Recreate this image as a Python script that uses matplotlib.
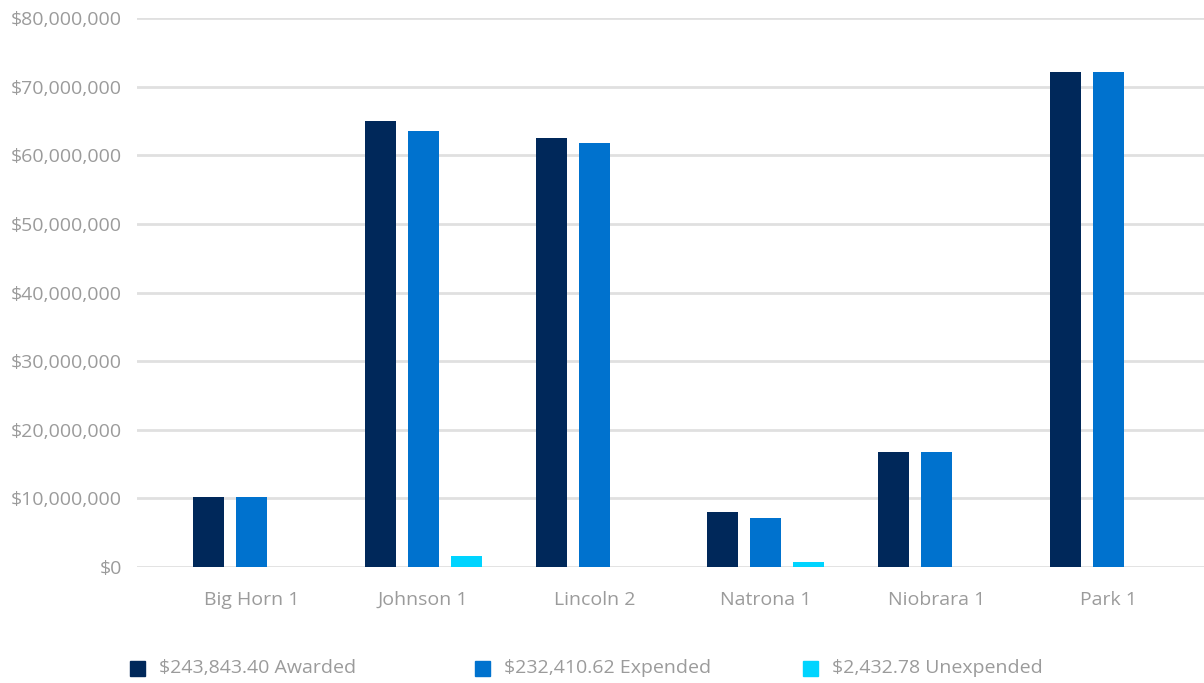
import matplotlib
matplotlib.use("Agg")
import matplotlib.pyplot as plt
import numpy as np
from matplotlib.patches import Rectangle
from matplotlib.ticker import FuncFormatter, MultipleLocator

plt.rcParams['font.family'] = ['Open Sans', 'DejaVu Sans']

counties = ["Big Horn 1", "Johnson 1", "Lincoln 2", "Natrona 1", "Niobrara 1", "Park 1"]
awarded = [10.2e6, 65.0e6, 62.5e6, 8.0e6, 16.7e6, 72.1e6]
expended = [10.2e6, 63.6e6, 61.8e6, 7.1e6, 16.7e6, 72.1e6]
unexpended = [0, 1.6e6, 0, 0.7e6, 0, 0]
legend_labels = ["$243,843.40 Awarded", "$232,410.62 Expended", "$2,432.78 Unexpended"]
colors = ["#00285A", "#0072CE", "#00D4FF"]

W, H = 1204, 683
fig = plt.figure(figsize=(W / 100, H / 100), dpi=100)
ax = fig.add_axes([137 / W, 116 / H, (W - 137) / W, (567 - 18) / H])

x = np.arange(len(counties))
bw = 0.181
step = 0.251
for i, (vals, c) in enumerate(zip([awarded, expended, unexpended], colors)):
    ax.bar(x + (i - 1) * step, vals, width=bw, color=c, zorder=3, linewidth=0)

ax.set_xlim(-0.67, 5.56)
ax.set_ylim(0, 80e6)
ax.yaxis.set_major_locator(MultipleLocator(10e6))
ax.yaxis.set_major_formatter(FuncFormatter(lambda v, p: f"${v:,.0f}"))
ax.grid(axis='y', color='#e0e0e0', linewidth=2, zorder=0)
ax.set_axisbelow(True)
for s in ax.spines.values():
    s.set_visible(False)
ax.tick_params(axis='both', length=0, labelsize=14, labelcolor='#9b9b9b')
ax.tick_params(axis='y', pad=11)
ax.tick_params(axis='x', pad=17)
ax.set_xticks(x)
ax.set_xticklabels(counties)

# legend drawn along the bottom
leg_x = [130, 475, 803]
leg_y = 668
for lx, lab, c in zip(leg_x, legend_labels, colors):
    fig.patches.append(Rectangle((lx / W, (H - leg_y - 7.5) / H), 15 / W, 15 / H,
                                 transform=fig.transFigure, color=c))
    fig.text((lx + 29) / W, (H - leg_y) / H, lab, fontsize=14, color='#9b9b9b',
             va='center', ha='left')

fig.savefig("out.png", dpi=100)
